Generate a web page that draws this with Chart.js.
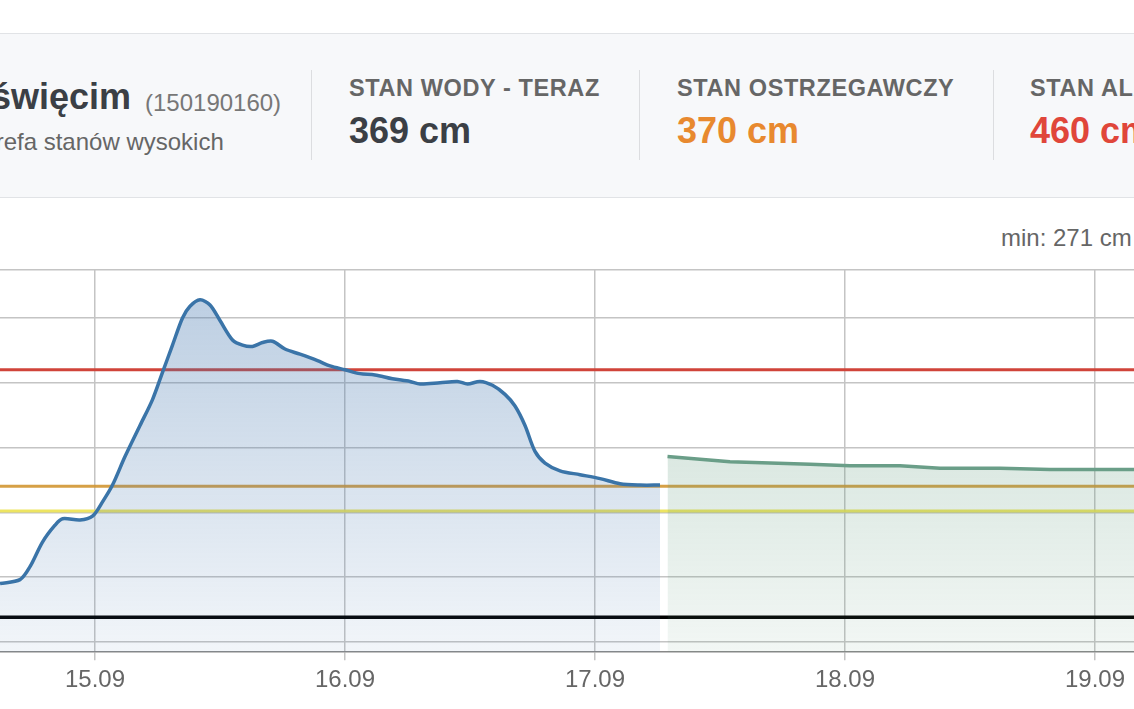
<!DOCTYPE html>
<html><head><meta charset="utf-8">
<script src="https://cdn.jsdelivr.net/npm/chart.js@4"></script>
<style>
body{margin:0;width:1134px;height:709px;overflow:hidden;background:#fff;font-family:"Liberation Sans",Arial,sans-serif;position:relative}
.hdr{position:absolute;left:-20px;top:33px;width:1200px;height:163px;background:#f7f8fa;border-top:1px solid #e1e3e6;border-bottom:1px solid #e1e3e6}
.t{position:absolute;white-space:nowrap}
.div{position:absolute;top:70px;width:1px;height:90px;background:#dcdde0}
#wrap{position:absolute;left:0;top:260px;width:1134px;height:449px}
</style></head><body>
<div class="hdr"></div>
<div class="t" style="left:-37px;top:76px;font-size:36px;font-weight:700;color:#3b3f45">Oświęcim</div>
<div class="t" style="left:145px;top:89px;font-size:24px;color:#777">(150190160)</div>
<div class="t" style="left:-27px;top:128px;font-size:24px;color:#666">Strefa stanów wysokich</div>
<div class="div" style="left:311px"></div><div class="div" style="left:639px"></div><div class="div" style="left:993px"></div>
<div class="t" style="left:349px;top:75px;font-size:23.5px;font-weight:700;color:#666;letter-spacing:0.6px">STAN WODY - TERAZ</div>
<div class="t" style="left:349px;top:110px;font-size:36px;font-weight:700;color:#3b3f45">369 cm</div>
<div class="t" style="left:677px;top:75px;font-size:23.5px;font-weight:700;color:#666;letter-spacing:0.6px">STAN OSTRZEGAWCZY</div>
<div class="t" style="left:677px;top:110px;font-size:36px;font-weight:700;color:#e8892f">370 cm</div>
<div class="t" style="left:1030px;top:75px;font-size:23.5px;font-weight:700;color:#666;letter-spacing:0.6px">STAN ALARMOWY</div>
<div class="t" style="left:1030px;top:110px;font-size:36px;font-weight:700;color:#e0463a">460 cm</div>
<div class="t" style="left:1001px;top:224px;font-size:24px;color:#666">min: 271 cm</div>
<div id="wrap"><canvas id="c"></canvas></div>
<script>
const measuredT=[14.62,14.70,14.74,14.79,14.84,14.87,14.94,14.99,15.03,15.07,15.12,15.18,15.23,15.27,15.31,15.35,15.38,15.42,15.46,15.50,15.55,15.59,15.63,15.67,15.71,15.76,15.82,15.89,15.94,16.00,16.06,16.12,16.19,16.26,16.30,16.38,16.45,16.49,16.54,16.59,16.64,16.68,16.72,16.76,16.80,16.86,16.94,17.02,17.10,17.18,17.26];
const measuredV=[295,298,308,327,340,345,344,347,358,371,393,417,437,458,479,500,509,514,510,498,483,479,478,481,482,476,472,467,463,460,457,456,453,451,449,450,451,449,451,448,441,432,417,397,388,382,379,376,372,371,371];
const forecastT=[17.29,17.42,17.54,17.70,17.86,18.02,18.22,18.38,18.62,18.82,19.16];
const forecastV=[393,391,389,388,387,386,386,384,384,383,383];
const xTicks=[15,16,17,18,19];
const levels={alarm:460,warning:370,high:351,low:269};
const X0=14.62,X1=19.156;
function pts(t,v){return t.map((x,i)=>({x:x,y:v[i]}));}
function flat(v){return [{x:X0,y:v},{x:X1,y:v}];}
const ctx=document.getElementById('c').getContext('2d');
function grad(c,a1,a2){return (context)=>{const ca=context.chart.chartArea;if(!ca)return null;const g=context.chart.ctx.createLinearGradient(0,ca.top,0,ca.bottom);g.addColorStop(0,'rgba('+c+','+a1+')');g.addColorStop(1,'rgba('+c+','+a2+')');return g;};}
new Chart(ctx,{type:'line',data:{datasets:[
{data:pts(measuredT,measuredV),borderColor:'#3a74a8',borderWidth:3.5,fill:'start',backgroundColor:grad('70,120,175',0.38,0.07),pointRadius:0,tension:0.3},
{data:pts(forecastT,forecastV),borderColor:'#6a9e88',borderWidth:3.5,fill:'start',backgroundColor:grad('90,150,120',0.35,0.08),pointRadius:0,tension:0},
{data:flat(levels.alarm),borderColor:'#d0443a',borderWidth:3,pointRadius:0,fill:false},
{data:flat(levels.warning),borderColor:'rgba(210,150,50,0.9)',borderWidth:3,pointRadius:0,fill:false},
{data:flat(levels.high),borderColor:'rgba(235,225,80,0.9)',borderWidth:3,pointRadius:0,fill:false},
{data:flat(levels.low),borderColor:'#000',borderWidth:3.5,pointRadius:0,fill:false}
]},options:{animation:false,responsive:true,maintainAspectRatio:false,layout:{padding:{top:10,left:0,right:0,bottom:8}},
plugins:{legend:{display:false},tooltip:{enabled:false}},
scales:{x:{type:'linear',min:X0,max:X1,afterBuildTicks:a=>{a.ticks=xTicks.map(v=>({value:v}));},
ticks:{color:'#666',font:{size:24,family:'Liberation Sans'},padding:6,maxRotation:0,callback:v=>v+'.09'},
grid:{color:'#c4c4c4',lineWidth:1.5,tickLength:8},border:{color:'#888',width:1.5}},
y:{min:242,max:537,afterBuildTicks:a=>{a.ticks=[250,300,350,400,450,500,537].map(v=>({value:v}));},
ticks:{display:false},grid:{color:'#c4c4c4',lineWidth:1.5,drawTicks:false},border:{display:false},afterFit:s=>{s.width=0;}}}}});
</script></body></html>
